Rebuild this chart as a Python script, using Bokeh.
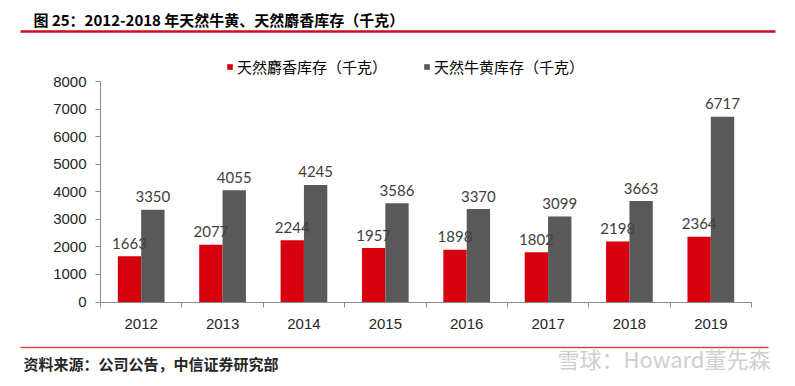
from bokeh.plotting import figure
from bokeh.models import (ColumnDataSource, FixedTicker, Label, Legend, LegendItem,
                          Arrow, Range1d)
from bokeh.core.properties import value
from bokeh.embed import file_html
from bokeh.resources import INLINE

years = ["2012", "2013", "2014", "2015", "2016", "2017", "2018", "2019"]
musk = [1663, 2077, 2244, 1957, 1898, 1802, 2198, 2364]
bezoar = [3350, 4055, 4245, 3586, 3370, 3099, 3663, 6717]
y_ticks = [0, 1000, 2000, 3000, 4000, 5000, 6000, 7000, 8000]

title_text = "图 25：2012-2018 年天然牛黄、天然麝香库存（千克）"
footer_text = "资料来源：公司公告，中信证券研究部"
watermark_text = "雪球：Howard董先森"
musk_name = "天然麝香库存（千克）"
bezoar_name = "天然牛黄库存（千克）"

RED = "#D7000F"
GRAY = "#595959"
CJK = "Noto Sans CJK SC"
AX = "#8c8c8c"

# canvas and plotting-area geometry (pixels)
W, H = 795, 386
PX0, PX1 = 100, 751          # left / right of the value area
PY_TOP, PY_BOT = 81, 301.5   # top (8000) / bottom (0) of value area, from top
n = len(years)
YMAX = 8000

sx = (PX1 - PX0) / n
sy = (PY_BOT - PY_TOP) / YMAX
x_range = Range1d(-PX0 / sx, n + (W - PX1) / sx)
y_range = Range1d(-(H - PY_BOT) / sy, YMAX + PY_TOP / sy)

centers = [i + 0.5 for i in range(n)]
bw = 0.287
src = ColumnDataSource(dict(
    xm=[c - bw / 2 for c in centers],
    xb=[c + bw / 2 for c in centers],
    musk=musk, bezoar=bezoar,
    musk_lbl=[str(v) for v in musk], bezoar_lbl=[str(v) for v in bezoar],
))

p = figure(width=W, height=H, x_range=x_range, y_range=y_range,
           output_backend="svg", toolbar_location=None, title=None,
           min_border=0, min_border_left=0, min_border_right=0,
           min_border_top=0, min_border_bottom=0)
p.outline_line_color = None
p.xgrid.grid_line_color = None
p.ygrid.grid_line_color = None

r1 = p.vbar(x="xm", top="musk", width=bw, source=src, fill_color=RED, line_color=None)
r2 = p.vbar(x="xb", top="bezoar", width=bw, source=src, fill_color=GRAY, line_color=None)

p.text(x="xm", y="musk", text="musk_lbl", source=src, text_align="center",
       text_baseline="alphabetic", y_offset=-13, text_font=value("Lato"),
       text_font_size="15px", text_color="#404040")
p.text(x="xb", y="bezoar", text="bezoar_lbl", source=src, text_align="center",
       text_baseline="alphabetic", y_offset=-13, text_font=value("Lato"),
       text_font_size="15px", text_color="#404040")

xa = p.xaxis[0]
xa.fixed_location = 0
xa.bounds = (0, n)
xa.ticker = FixedTicker(ticks=centers, minor_ticks=list(range(n + 1)))
xa.major_label_overrides = {c: y for c, y in zip(centers, years)}
xa.major_tick_line_color = None
xa.major_tick_out = 0
xa.major_tick_in = 0
xa.minor_tick_line_color = AX
xa.minor_tick_out = 5
xa.minor_tick_in = 0
xa.axis_line_color = AX
xa.major_label_standoff = 12
xa.major_label_text_font = "Liberation Sans"
xa.major_label_text_font_size = "15px"
xa.major_label_text_color = "#262626"

ya = p.yaxis[0]
ya.fixed_location = 0
ya.bounds = (0, YMAX)
ya.ticker = FixedTicker(ticks=y_ticks, minor_ticks=[])
ya.major_tick_line_color = AX
ya.major_tick_out = 5
ya.major_tick_in = 0
ya.minor_tick_line_color = None
ya.axis_line_color = AX
ya.major_label_standoff = 9
ya.major_label_text_font = "Liberation Sans"
ya.major_label_text_font_size = "15px"
ya.major_label_text_color = "#262626"

legend = Legend(items=[LegendItem(label=musk_name, renderers=[r1]),
                       LegendItem(label=bezoar_name, renderers=[r2])],
                orientation="horizontal", location=(226, 309),
                glyph_width=7, glyph_height=7, label_standoff=4, spacing=36,
                padding=0, margin=0, border_line_color=None,
                background_fill_alpha=0, label_text_font=CJK,
                label_text_font_size="15px", label_text_color="#000000",
                label_height=20)
p.add_layout(legend, "center")

p.add_layout(Label(x=33, y=H - 19, x_units="screen", y_units="screen", text=title_text,
                   text_font=CJK, text_font_size="15px", text_font_style="bold",
                   text_baseline="middle", text_color="#000000"))
p.add_layout(Arrow(start=None, end=None, x_start=20, y_start=H - 31, x_end=775, y_end=H - 31,
                   start_units="screen", end_units="screen",
                   line_color="#C8101E", line_width=2.5))
p.add_layout(Arrow(start=None, end=None, x_start=20, y_start=H - 347, x_end=768, y_end=H - 347,
                   start_units="screen", end_units="screen",
                   line_color="#D94450", line_width=1.5))
p.add_layout(Label(x=23, y=H - 363, x_units="screen", y_units="screen", text=footer_text,
                   text_font=CJK, text_font_size="15px", text_font_style="bold",
                   text_baseline="middle", text_color="#262626"))
p.add_layout(Label(x=557, y=H - 357, x_units="screen", y_units="screen", text=watermark_text,
                   text_font=CJK, text_font_size="22px",
                   text_baseline="middle", text_color="#cfcfcf"))

open("out.html", "w").write(file_html(p, INLINE))
